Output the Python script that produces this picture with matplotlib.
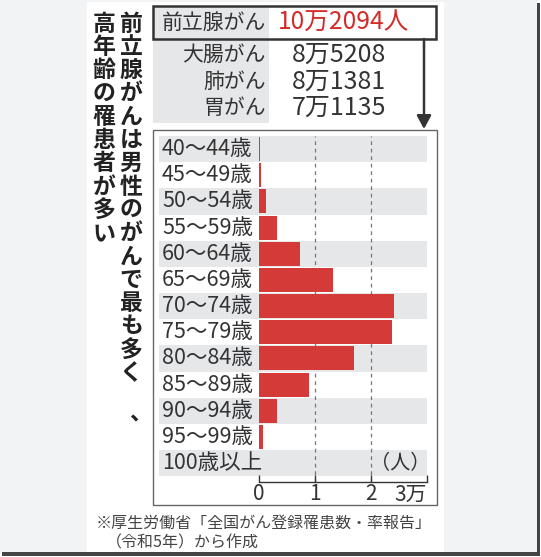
import matplotlib
matplotlib.use("Agg")
import matplotlib.pyplot as plt
from matplotlib.patches import Rectangle, FancyArrowPatch

plt.rcParams['font.family'] = ['Noto Sans CJK JP', 'DejaVu Sans']

# ---- data ----
age_groups = ["40～44歳", "45～49歳", "50～54歳", "55～59歳", "60～64歳", "65～69歳",
              "70～74歳", "75～79歳", "80～84歳", "85～89歳", "90～94歳", "95～99歳", "100歳以上"]
patients = [100, 400, 1200, 3200, 7300, 13300, 24100, 23800, 17000, 8900, 3200, 700, 60]
xticks = [0, 10000, 20000, 30000]
xtick_labels = ["0", "1", "2", "3万"]

cancer_types = ["前立腺がん", "大腸がん", "肺がん", "胃がん"]
cancer_counts = ["10万2094人", "8万5208", "8万1381", "7万1135"]

title_col1 = "前立腺がんは男性のがんで最も多く、"
title_col2 = "高年齢の罹患者が多い"
note_line1 = "※厚生労働省「全国がん登録罹患数・率報告」"
note_line2 = "（令和5年）から作成"
unit_label = "（人）"

# ---- colors ----
RED = "#d33a38"
BAND = "#e6e7e9"
TXT = "#333333"
OUTER = "#f2f3f5"

W, H = 541, 557
fig = plt.figure(figsize=(W / 100, H / 100), dpi=100, facecolor="white")


def fx(px):
    return px / W


def fy(py):
    return 1 - py / H


def frect(x0, y0, x1, y1, **kw):
    r = Rectangle((fx(x0), fy(y1)), fx(x1) - fx(x0), fy(y0) - fy(y1),
                  transform=fig.transFigure, **kw)
    fig.add_artist(r)
    return r


# outer background, shadow, white panel
frect(0, 0, 538, 553, facecolor=OUTER, edgecolor="none", zorder=-10)
frect(537, 3, 540, 556, facecolor="#444444", edgecolor="none", zorder=-9)
frect(2, 552, 540, 556, facecolor="#444444", edgecolor="none", zorder=-9)
frect(87, 2, 444, 552, facecolor="white", edgecolor="none", zorder=-8)

# vertical title
pitch = 23.3
for i, ch in enumerate(title_col1):
    if ch == "、":
        fig.text(fx(141), fy(414), ch, ha="center", va="center",
                 fontsize=16.5, fontweight="bold", color="#222222")
    else:
        fig.text(fx(131), fy(24 + pitch * i), ch, ha="center", va="center",
                 fontsize=16.5, fontweight="bold", color="#222222")
for i, ch in enumerate(title_col2):
    fig.text(fx(104), fy(24 + pitch * i), ch, ha="center", va="center",
             fontsize=16.5, fontweight="bold", color="#222222")

# top table
frect(153, 6, 269, 123, facecolor=BAND, edgecolor="none", zorder=-5)
frect(153, 6, 436, 39, facecolor="none", edgecolor="#333333", linewidth=1.8, zorder=2)
row_y = [23, 55, 82, 108]
for i, (name, cnt) in enumerate(zip(cancer_types, cancer_counts)):
    fig.text(fx(266), fy(row_y[i]), name, ha="right", va="center", fontsize=15, color=TXT)
    if i == 0:
        fig.text(fx(278), fy(row_y[i]), cnt, ha="left", va="center", fontsize=17.7, color="#d42a28")
    else:
        fig.text(fx(292), fy(row_y[i]), cnt, ha="left", va="center", fontsize=18, color=TXT)

# arrow
arr = FancyArrowPatch((fx(424), fy(39)), (fx(424), fy(129)), transform=fig.transFigure,
                      arrowstyle="-|>,head_length=8,head_width=4.3", mutation_scale=1,
                      color="#333333", linewidth=1.8, shrinkA=0, shrinkB=0)
fig.add_artist(arr)

# chart box
frect(153, 130, 437, 505, facecolor="white", edgecolor="#666666", linewidth=1.0, zorder=-4)

# bar axes
left_px, right_px, top_px, bot_px = 159, 427, 136, 482
ax = fig.add_axes([fx(left_px), fy(bot_px), fx(right_px) - fx(left_px), fy(top_px) - fy(bot_px)])
ax.set_facecolor("none")
x0_px = 259
xmin = -(x0_px - left_px) / (right_px - x0_px) * 30000
ax.set_xlim(xmin, 30000)
row_pitch = 26.17
ybot = 12.5 + (bot_px - (top_px + 13 * row_pitch)) / row_pitch
ax.set_ylim(ybot, -0.5)

n = len(age_groups)
for i in range(n):
    if i % 2 == 0:
        ax.axhspan(i - 0.5, i + 0.5, facecolor=BAND, edgecolor="none", zorder=0)
for xv in [10000, 20000]:
    ax.axvline(xv, color="#777777", linewidth=0.9, linestyle=(0, (3, 3)), zorder=1)
ax.barh(range(n), patients, height=0.92, color=RED, zorder=2)

for i, lab in enumerate(age_groups):
    ax.text(0.011, i, lab, transform=ax.get_yaxis_transform(), ha="left", va="center",
            fontsize=15.5, color=TXT)
ax.text(1.012, n - 1, unit_label, transform=ax.get_yaxis_transform(), ha="right", va="center",
        fontsize=14.5, color=TXT)

for s in ["left", "right", "top"]:
    ax.spines[s].set_visible(False)
ax.spines["bottom"].set_bounds(0, 30000)
ax.spines["bottom"].set_color("#333333")
ax.spines["bottom"].set_linewidth(1.0)
ax.set_yticks([])
ax.set_xticks(xticks)
ax.set_xticklabels(xtick_labels)
ax.tick_params(axis="x", direction="in", length=5, width=1.0, color="#333333",
               labelsize=15, labelcolor=TXT, pad=1)
lbls = ax.get_xticklabels()
lbls[-1].set_ha("right")

# footnote
fig.text(fx(96), fy(523), note_line1, ha="left", va="center", fontsize=11.5, color="#444444")
fig.text(fx(106), fy(543), note_line2, ha="left", va="center", fontsize=11.5, color="#444444")

fig.savefig("out.png", dpi=100, facecolor=fig.get_facecolor())
